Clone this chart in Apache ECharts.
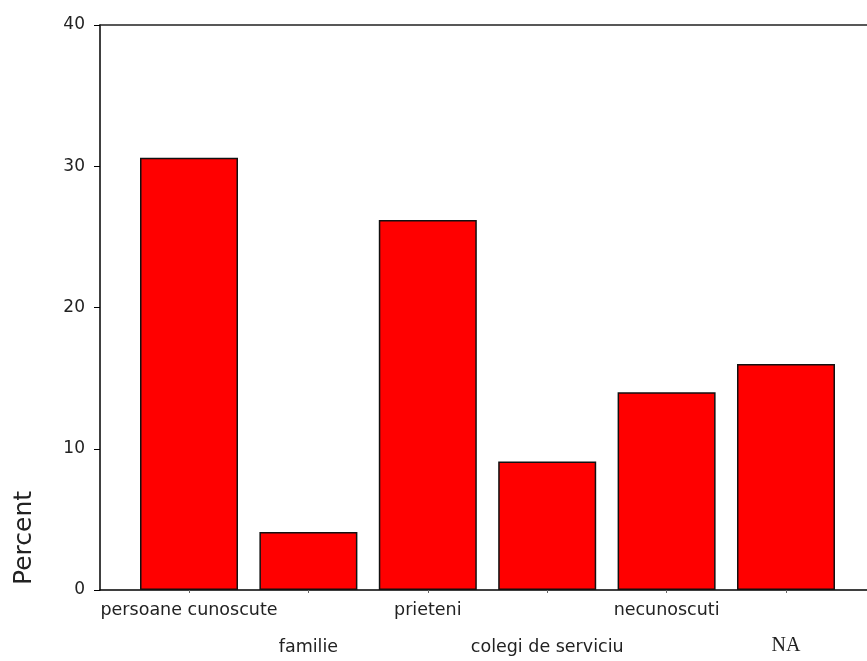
<!DOCTYPE html>
<html>
<head>
<meta charset="utf-8">
<script src="https://cdn.jsdelivr.net/npm/echarts@6/dist/echarts.min.js"></script>
<style>
html,body{margin:0;padding:0;background:#fff;}
#chart{width:867px;height:661px;}
</style>
</head>
<body>
<div id="chart"></div>
<script>
const categories = ['persoane cunoscute', 'familie', 'prieteni', 'colegi de serviciu', 'necunoscuti', 'NA'];
const percentValues = [30.6, 4.1, 26.2, 9.1, 14.0, 16.0];
const yTicks = { min: 0, max: 40, interval: 10 };
const yAxisTitle = 'Percent';

const chart = echarts.init(document.getElementById('chart'), null, { renderer: 'canvas' });

const sans = 'DejaVu Sans';
const option = {
  backgroundColor: '#ffffff',
  animation: false,
  grid: [
    { left: 100, right: 0, top: 25, bottom: 71 },
    { left: 129.3, width: 716.4, top: 25, bottom: 71 }
  ],
  xAxis: [
    { gridIndex: 0, type: 'value', min: 0, max: 1, position: 'bottom',
      axisLine: { show: true, lineStyle: { color: '#000', width: 1.5 } },
      axisTick: { show: false }, axisLabel: { show: false }, splitLine: { show: false } },
    { gridIndex: 0, type: 'value', min: 0, max: 1, position: 'top',
      axisLine: { show: true, lineStyle: { color: '#222', width: 1.5 } },
      axisTick: { show: false }, axisLabel: { show: false }, splitLine: { show: false } },
    { gridIndex: 1, type: 'category', data: categories, position: 'bottom',
      axisLine: { show: false },
      axisTick: { show: true, alignWithLabel: true, length: 3, lineStyle: { color: '#666' } },
      axisLabel: {
        interval: 0, margin: 11, color: '#222', fontFamily: sans, fontSize: 17.5,
        formatter: function (value, index) {
          if (value === 'NA') return '{na|' + value + '}';
          return index % 2 === 0 ? '{a|' + value + '}' : '{b|' + value + '}';
        },
        rich: {
          a: { fontFamily: sans, fontSize: 17.5, color: '#222' },
          b: { fontFamily: sans, fontSize: 17.5, color: '#222', padding: [37, 0, 0, 0] },
          na: { fontFamily: 'Liberation Serif', fontSize: 20, color: '#222', padding: [35, 0, 0, 0] }
        }
      } }
  ],
  yAxis: [
    { gridIndex: 0, type: 'value', min: yTicks.min, max: yTicks.max, interval: yTicks.interval,
      axisLine: { show: true, lineStyle: { color: '#000', width: 1.5 } },
      axisTick: { show: true, inside: false, length: 6, lineStyle: { color: '#000', width: 1 } },
      axisLabel: { margin: 15, color: '#222', fontFamily: sans, fontSize: 17 },
      splitLine: { show: false } },
    { gridIndex: 1, type: 'value', min: yTicks.min, max: yTicks.max, interval: yTicks.interval, show: false }
  ],
  graphic: [
    { type: 'text', x: 24, y: 538, rotation: Math.PI / 2,
      style: { text: yAxisTitle, fontFamily: sans, fontSize: 25, fill: '#222', align: 'center', verticalAlign: 'middle' } }
  ],
  series: [
    { type: 'bar', xAxisIndex: 2, yAxisIndex: 1, data: percentValues, barWidth: 98,
      itemStyle: { color: '#ff0000', borderColor: '#111', borderWidth: 1.5 } }
  ]
};
chart.setOption(option);
</script>
</body>
</html>
